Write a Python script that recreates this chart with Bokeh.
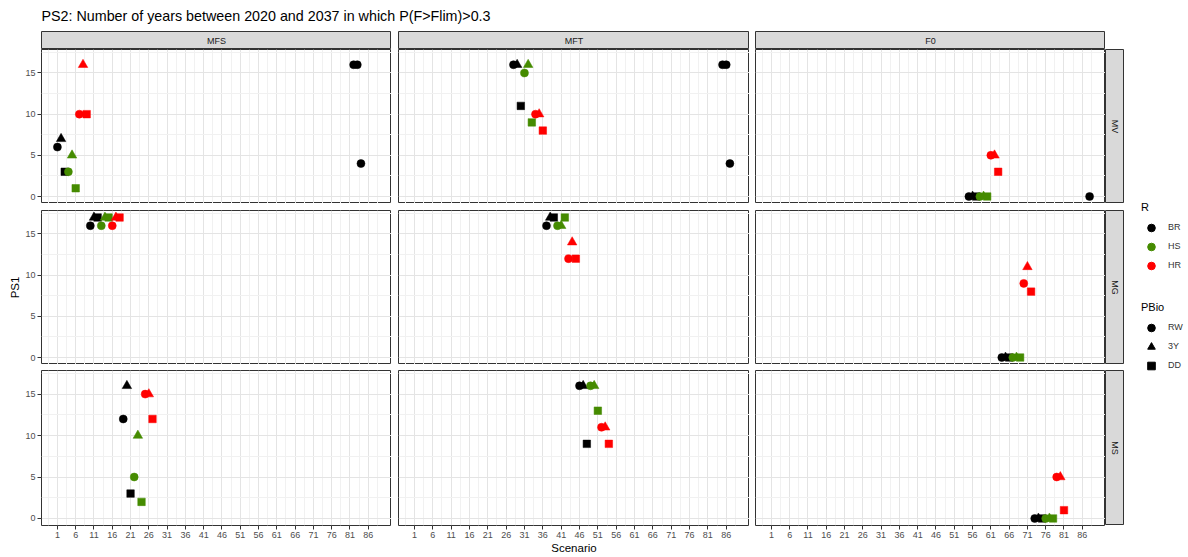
import math
from bokeh.plotting import figure
from bokeh.models import Range1d, FixedTicker, Spacer, Legend, LegendItem, ColumnDataSource
from bokeh.layouts import row, column
from bokeh.embed import file_html
from bokeh.resources import INLINE
from bokeh.core.properties import value, field

# ---------------- data ----------------
TITLE = "PS2: Number of years between 2020 and 2037 in which P(F>Flim)>0.3"
X_LABEL = "Scenario"
Y_LABEL = "PS1"
col_facets = ["MFS", "MFT", "F0"]
row_facets = ["MV", "MG", "MS"]
r_levels = ["BR", "HS", "HR"]
pbio_levels = ["RW", "3Y", "DD"]
x_ticks = [1, 6, 11, 16, 21, 26, 31, 36, 41, 46, 51, 56, 61, 66, 71, 76, 81, 86]
y_ticks = [0, 5, 10, 15]

scenario = [1, 2, 3, 4, 5, 6, 7, 8, 9,
            10, 11, 12, 13, 14, 15, 16, 17, 18,
            19, 20, 21, 22, 23, 24, 25, 26, 27,
            28, 29, 30, 31, 32, 33, 34, 35, 36,
            37, 38, 39, 40, 41, 42, 43, 44, 45,
            46, 47, 48, 49, 50, 51, 52, 53, 54,
            55, 56, 57, 58, 59, 60, 61, 62, 63,
            64, 65, 66, 67, 68, 69, 70, 71, 72,
            73, 74, 75, 76, 77, 78, 79, 80, 81,
            82, 83, 84, 85, 86, 87, 88]
ps1 = [6, 7, 3, 3, 5, 1, 10, 16, 10,
       16, 17, 17, 16, 17, 17, 16, 17, 17,
       12, 16, 3, 5, 10, 2, 15, 15, 12,
       16, 16, 11, 15, 16, 9, 10, 10, 8,
       16, 17, 17, 16, 16, 17, 12, 14, 12,
       16, 16, 9, 16, 16, 13, 11, 11, 9,
       0, 0, 0, 0, 0, 0, 5, 5, 3,
       0, 0, 0, 0, 0, 0, 9, 11, 8,
       0, 0, 0, 0, 0, 0, 5, 5, 1,
       16, 16, 4, 16, 16, 4, 0]
fleet = ["MFS"] * 27 + ["MFT"] * 27 + ["F0"] * 27 + ["MFS"] * 3 + ["MFT"] * 3 + ["F0"]
model = (["MV"] * 9 + ["MG"] * 9 + ["MS"] * 9) * 3 + ["MV"] * 7
R = (["BR"] * 3 + ["HS"] * 3 + ["HR"] * 3) * 9 + ["BR"] * 7
PBio = ["RW", "3Y", "DD"] * 27 + ["RW"] * 7

# ---------------- styles ----------------
FONT = "Liberation Sans"
R_COLORS = {"BR": "#000000", "HS": "#458B00", "HR": "#FF0000"}
MARKERS = {"RW": "circle", "3Y": "triangle", "DD": "square"}
SIZES = {"RW": 8, "3Y": 9.5, "DD": 7.5}

PW = [350, 351, 350]
PH = [154, 154, 155]
SH = 18
RSW = 19
LEFT = 21
BOTTOM = 18
GX = [7, 6]
GY = [7, 6]
PS1W = 20
LEGW = 63
TITLEH = 31
SCH = 13
GRIDW = LEFT + sum(PW) + GX[0] + GX[1] + RSW
TOTAL_W = PS1W + GRIDW + LEGW
BODY_H = SH + sum(PH) + GY[0] + GY[1] + BOTTOM + SCH

xmin, xmax = min(scenario), max(scenario)
xpad = 0.05 * (xmax - xmin)
ymin, ymax = min(ps1), max(ps1)
ypad = 0.05 * (ymax - ymin)

step_x = x_ticks[1] - x_ticks[0]
x_minor = [t - step_x / 2 for t in x_ticks] + [x_ticks[-1] + step_x / 2]
step_y = y_ticks[1] - y_ticks[0]
y_minor = [t + step_y / 2 for t in y_ticks]


def blank(w, h, xr=(0, 1), yr=(0, 1)):
    f = figure(width=w, height=h, x_range=Range1d(*xr), y_range=Range1d(*yr),
               x_axis_location=None, y_axis_location=None, min_border=0,
               output_backend="svg", toolbar_location=None, tools="")
    f.grid.visible = False
    f.outline_line_color = None
    f.background_fill_color = "white"
    f.border_fill_color = "white"
    return f


def make_panel(ci, ri):
    left = LEFT if ci == 0 else 0
    bottom = BOTTOM if ri == 2 else 0
    p = figure(width=PW[ci] + left, height=PH[ri] + bottom,
               x_range=Range1d(xmin - xpad, xmax + xpad),
               y_range=Range1d(ymin - ypad, ymax + ypad),
               x_axis_location="below" if ri == 2 else None,
               y_axis_location="left" if ci == 0 else None,
               output_backend="svg", toolbar_location=None, tools="",
               min_border_left=left, min_border_right=0, min_border_top=0,
               min_border_bottom=bottom)
    p.background_fill_color = "white"
    p.border_fill_color = "white"
    p.outline_line_color = "#333333"
    p.outline_line_width = 1
    p.xgrid.ticker = FixedTicker(ticks=x_ticks, minor_ticks=x_minor)
    p.ygrid.ticker = FixedTicker(ticks=y_ticks, minor_ticks=y_minor)
    p.grid.grid_line_color = "#e4e4e4"
    p.grid.grid_line_width = 1
    p.grid.minor_grid_line_color = "#f1f1f1"
    p.grid.minor_grid_line_width = 1
    for ax in p.axis:
        ax.axis_line_color = None
        ax.major_tick_line_color = "#333333"
        ax.major_tick_out = 4
        ax.major_tick_in = 0
        ax.minor_tick_line_color = None
        ax.major_label_text_font = FONT
        ax.major_label_text_font_size = "9px"
        ax.major_label_text_color = "#4d4d4d"
        ax.major_label_standoff = 2
    if ri == 2:
        p.xaxis.ticker = FixedTicker(ticks=x_ticks)
    if ci == 0:
        p.yaxis.ticker = FixedTicker(ticks=y_ticks)

    idx = [i for i in range(len(scenario))
           if fleet[i] == col_facets[ci] and model[i] == row_facets[ri]]
    src = ColumnDataSource(dict(
        x=[scenario[i] for i in idx],
        y=[ps1[i] for i in idx],
        c=[R_COLORS[R[i]] for i in idx],
        m=[MARKERS[PBio[i]] for i in idx],
        s=[SIZES[PBio[i]] for i in idx],
    ))
    p.scatter("x", "y", source=src, marker=field("m"), size="s",
              fill_color="c", line_color="c", line_width=0.5)
    return p


def col_strip(label, w):
    s = blank(w, SH)
    s.background_fill_color = "#d9d9d9"
    s.outline_line_color = "#333333"
    s.text(x=[0.5], y=[0.5], text=[label], text_align="center", text_baseline="middle",
           text_font=value(FONT), text_font_size="9px", text_color="#1a1a1a")
    return s


def row_strip(label, h):
    s = blank(RSW, h)
    s.background_fill_color = "#d9d9d9"
    s.outline_line_color = "#333333"
    s.text(x=[0.5], y=[0.5], text=[label], text_align="center", text_baseline="middle",
           angle=-math.pi / 2,
           text_font=value(FONT), text_font_size="9px", text_color="#1a1a1a")
    return s


# title
tf = blank(TOTAL_W, TITLEH, xr=(0, TOTAL_W), yr=(TITLEH, 0))
tf.text(x=[41], y=[15], text=[TITLE], text_baseline="middle",
        text_font=value(FONT), text_font_size="14.3px", text_color="#000000")

# strips row
strip_row = row(Spacer(width=LEFT, height=SH), col_strip(col_facets[0], PW[0]),
                Spacer(width=GX[0], height=SH), col_strip(col_facets[1], PW[1]),
                Spacer(width=GX[1], height=SH), col_strip(col_facets[2], PW[2]))

rows = []
for ri in range(3):
    panels = [make_panel(ci, ri) for ci in range(3)]
    rs = row_strip(row_facets[ri], PH[ri])
    if ri == 2:
        rs = column(rs, Spacer(width=RSW, height=BOTTOM))
    rows.append(row(panels[0], Spacer(width=GX[0], height=10), panels[1],
                    Spacer(width=GX[1], height=10), panels[2], rs))

# scenario label
scf = blank(PW[1], SCH)
scf.text(x=[0.5], y=[0.62], text=[X_LABEL], text_align="center", text_baseline="middle",
         text_font=value(FONT), text_font_size="11.5px", text_color="#000000")
sc_row = row(Spacer(width=LEFT + PW[0] + GX[0], height=SCH), scf)

grid_col = column(strip_row, rows[0], Spacer(width=10, height=GY[0]), rows[1],
                  Spacer(width=10, height=GY[1]), rows[2], sc_row)

# PS1 label
ps1_h = sum(PH) + GY[0] + GY[1]
pf = blank(PS1W, ps1_h)
pf.text(x=[0.72], y=[0.5], text=[Y_LABEL], text_align="center", text_baseline="middle",
        angle=math.pi / 2, text_font=value(FONT), text_font_size="11.5px", text_color="#000000")
ps1_col = column(Spacer(width=PS1W, height=SH), pf)

# legends
lf = blank(LEGW, BODY_H)
NAN = float("nan")


def make_legend(title, items, vy):
    lg = Legend(items=items, title=title, location=(17, vy), orientation="vertical")
    lg.title_text_font = FONT
    lg.title_text_font_size = "11px"
    lg.title_text_font_style = "normal"
    lg.title_text_color = "#000000"
    lg.title_standoff = 5
    lg.label_text_font = FONT
    lg.label_text_font_size = "9px"
    lg.label_text_color = "#333333"
    lg.label_standoff = 7
    lg.label_height = 12
    lg.glyph_width = 20
    lg.glyph_height = 19
    lg.spacing = 0
    lg.padding = 0
    lg.margin = 0
    lg.border_line_color = None
    lg.background_fill_alpha = 0
    return lg


r_items = []
for lvl in r_levels:
    rr = lf.scatter(x=[NAN], y=[NAN], marker="circle", size=8,
                    fill_color=R_COLORS[lvl], line_color=R_COLORS[lvl])
    r_items.append(LegendItem(label=lvl, renderers=[rr]))
p_items = []
for lvl in pbio_levels:
    rr = lf.scatter(x=[NAN], y=[NAN], marker=MARKERS[lvl], size=8,
                    fill_color="#000000", line_color="#000000")
    p_items.append(LegendItem(label=lvl, renderers=[rr]))

lf.add_layout(make_legend("R", r_items, BODY_H - 243.5))
lf.add_layout(make_legend("PBio", p_items, BODY_H - 343.5))

body = row(ps1_col, grid_col, lf)
layout = column(tf, body)

open("out.html", "w").write(file_html(layout, INLINE))
